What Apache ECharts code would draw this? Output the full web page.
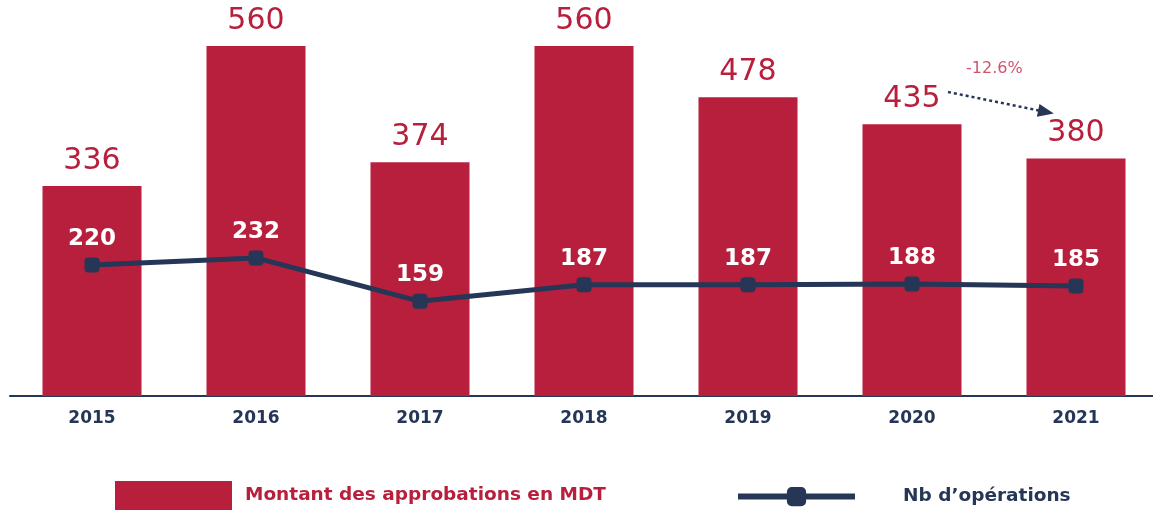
<!DOCTYPE html>
<html>
<head>
<meta charset="utf-8">
<script src="https://cdn.jsdelivr.net/npm/echarts@6/dist/echarts.min.js"></script>
<style>
	html,body{margin:0;padding:0;background:#fff;overflow:hidden;}
	#chart{width:1158px;height:513px;}
</style>
</head>
<body>
<div id="chart"></div>
<script>
var years = ['2015','2016','2017','2018','2019','2020','2021'];
var montants = [336,560,374,560,478,435,380];
var operations = [220,232,159,187,187,188,185];
var variationLabel = '-12.6%';

var RED = '#b71f3c';
var NAVY = '#253656';
var FONT = 'DejaVu Sans';

var myChart = echarts.init(document.getElementById('chart'));
var option = {
	animation:false,
	grid:{left:10,right:0,top:46,bottom:117,containLabel:false},
	legend:[{
		left:115,top:481,padding:0,
		itemWidth:117,itemHeight:29,
		icon:'rect',
		data:['Montant des approbations en MDT'],
		textStyle:{color:RED,fontFamily:FONT,fontWeight:'bold',fontSize:18.5,padding:[0,0,0,8]}
	},{
		left:735,top:487,padding:0,
		itemWidth:117,itemHeight:24,
		lineStyle:{width:6},
		data:['Nb d\u2019opérations'],
		textStyle:{color:NAVY,fontFamily:FONT,fontWeight:'bold',fontSize:18.5,padding:[0,0,0,43]}
	}],
	xAxis:{
		type:'category',
		data:years,
		axisLine:{lineStyle:{color:NAVY,width:2}},
		axisTick:{show:false},
		axisLabel:{color:NAVY,fontFamily:FONT,fontWeight:'bold',fontSize:17,margin:14}
	},
	yAxis:[
		{type:'value',min:0,max:560,show:false,splitLine:{show:false}},
		{type:'value',min:0,max:588,show:false,splitLine:{show:false}}
	],
	series:[{
		name:'Montant des approbations en MDT',
		type:'bar',
		data:montants,
		barWidth:99,
		itemStyle:{color:RED},
		label:{show:true,position:'top',distance:10,color:RED,fontFamily:FONT,fontSize:30}
	},{
		name:'Nb d\u2019opérations',
		type:'line',
		yAxisIndex:1,
		data:operations,
		symbol:'roundRect',
		symbolSize:15,
		itemStyle:{color:NAVY},
		lineStyle:{color:NAVY,width:5},
		label:{show:true,position:'top',distance:7,color:'#fff',fontFamily:FONT,fontWeight:'bold',fontSize:23},
		markLine:{
			silent:true,
			symbol:['none','triangle'],
			symbolSize:[13,16],
			label:{show:false},
			lineStyle:{color:NAVY,width:2.5,type:[3,3]},
			data:[[{x:948,y:92},{x:1046,y:112}]]
		}
	}],
	graphic:[{
		type:'text',
		left:966,top:61,
		style:{text:variationLabel,fill:'#d0546c',font:'16px "DejaVu Sans"'}
	}]
};
myChart.setOption(option);
</script>
</body>
</html>
